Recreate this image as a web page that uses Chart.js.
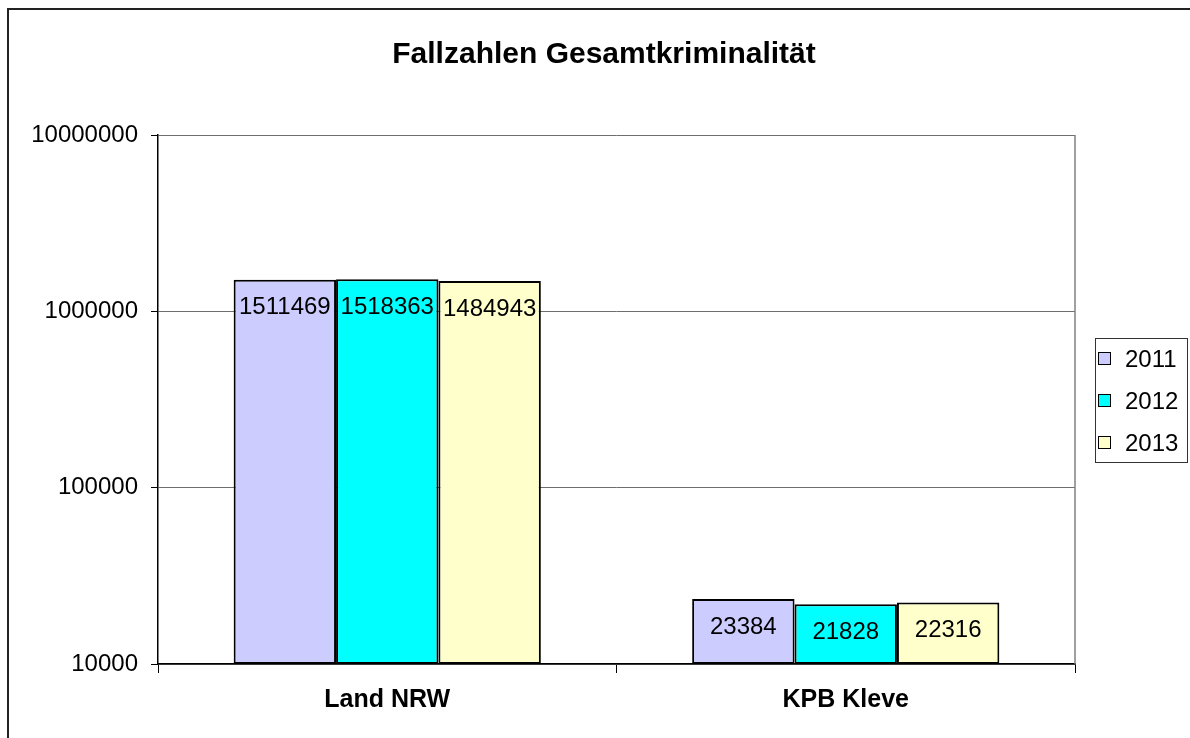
<!DOCTYPE html>
<html>
<head>
<meta charset="utf-8">
<script src="https://cdn.jsdelivr.net/npm/chart.js@4"></script>
<style>
  html, body { margin: 0; padding: 0; background: #fff; }
  #wrap { width: 1190px; height: 738px; }
</style>
</head>
<body>
<div id="wrap"><canvas id="chart" width="1190" height="738"></canvas></div>
<script>
// Data
const categories = ['Land NRW', 'KPB Kleve'];
const years = ['2011', '2012', '2013'];
const values2011 = [1511469, 23384];
const values2012 = [1518363, 21828];
const values2013 = [1484943, 22316];
const yTicks = [10000, 100000, 1000000, 10000000];
const seriesColors = ['#CCCCFF', '#00FFFF', '#FFFFCC'];
const chartTitle = 'Fallzahlen Gesamtkriminalität';

const FONT = "'Liberation Sans', Arial, sans-serif";

// Outer frame, title, plot border and the boxed legend
const framePlugin = {
    id: 'frame',
    beforeDraw: function(chart) {
        const ctx = chart.ctx;
        ctx.save();
        ctx.fillStyle = '#fff';
        ctx.fillRect(0, 0, chart.width, chart.height);
        ctx.strokeStyle = '#222';
        ctx.lineWidth = 2;
        ctx.beginPath();
        ctx.moveTo(8, chart.height + 5);
        ctx.lineTo(8, 9);
        ctx.lineTo(chart.width + 5, 9);
        ctx.stroke();
        // title
        ctx.fillStyle = '#000';
        ctx.font = 'bold 30px ' + FONT;
        ctx.textAlign = 'center';
        ctx.textBaseline = 'middle';
        ctx.fillText(chartTitle, 604, 55);
        ctx.restore();
    },
    afterDatasetsDraw: function(chart) {
        const ctx = chart.ctx;
        const a = chart.chartArea;
        ctx.save();
        ctx.strokeStyle = '#808080';
        ctx.lineWidth = 1.5;
        ctx.beginPath();
        ctx.moveTo(a.right, a.top);
        ctx.lineTo(a.right, a.bottom);
        ctx.stroke();
        ctx.restore();
    },
    afterDraw: function(chart) {
        const ctx = chart.ctx;
        ctx.save();
        // legend box
        const lx = 1095, ly = 338, lw = 92, lh = 124;
        ctx.strokeStyle = '#333';
        ctx.lineWidth = 1;
        ctx.strokeRect(lx + 0.5, ly + 0.5, lw, lh);
        ctx.font = '24px ' + FONT;
        ctx.textBaseline = 'middle';
        ctx.textAlign = 'left';
        chart.data.datasets.forEach(function(ds, i) {
            const cy = 359 + i * 42;
            ctx.fillStyle = ds.backgroundColor;
            ctx.fillRect(1098.5, cy - 6.5, 12, 12);
            ctx.strokeStyle = '#000';
            ctx.lineWidth = 1;
            ctx.strokeRect(1098.5, cy - 6.5, 12, 12);
            ctx.fillStyle = '#000';
            ctx.fillText(ds.label, 1125, cy + 1);
        });
        ctx.restore();
    }
};

// Value labels inside the bar tops
const valueLabels = {
    id: 'valueLabels',
    afterDatasetsDraw: function(chart) {
        const ctx = chart.ctx;
        ctx.save();
        ctx.font = '24px ' + FONT;
        ctx.fillStyle = '#000';
        ctx.textAlign = 'center';
        ctx.textBaseline = 'middle';
        chart.data.datasets.forEach(function(ds, i) {
            chart.getDatasetMeta(i).data.forEach(function(bar, j) {
                ctx.fillText(String(ds.data[j]), bar.x, bar.y + 28);
            });
        });
        ctx.restore();
    }
};

const ctx = document.getElementById('chart').getContext('2d');
new Chart(ctx, {
    type: 'bar',
    data: {
        labels: categories,
        datasets: [
            { label: years[0], data: values2011, backgroundColor: seriesColors[0] },
            { label: years[1], data: values2012, backgroundColor: seriesColors[1] },
            { label: years[2], data: values2013, backgroundColor: seriesColors[2] }
        ].map(function(ds) {
            ds.borderColor = '#000';
            ds.borderWidth = 2;
            ds.borderSkipped = false;
            ds.categoryPercentage = 0.67;
            ds.barPercentage = 1.0;
            return ds;
        })
    },
    options: {
        responsive: false,
        animation: false,
        devicePixelRatio: 1,
        layout: { padding: { left: 20, right: 115, top: 135, bottom: 0 } },
        scales: {
            x: {
                offset: true,
                grid: {
                    offset: true,
                    drawOnChartArea: false,
                    drawTicks: true,
                    tickLength: 9,
                    color: '#000',
                    lineWidth: 1
                },
                border: { color: '#000', width: 1.5 },
                ticks: {
                    color: '#000',
                    font: { family: FONT, size: 25, weight: 'bold' },
                    padding: 12
                },
                afterFit: function(scale) { scale.height = 74; }
            },
            y: {
                type: 'logarithmic',
                min: 10000,
                max: 10000000,
                afterBuildTicks: function(scale) {
                    scale.ticks = yTicks.map(function(v) { return { value: v, major: true }; });
                },
                grid: {
                    color: '#6e6e6e',
                    lineWidth: 1,
                    tickLength: 7,
                    tickColor: '#000'
                },
                border: { color: '#000', width: 1.5 },
                ticks: {
                    color: '#000',
                    font: { family: FONT, size: 24 },
                    padding: 13,
                    autoSkip: false,
                    callback: function(v) { return String(v); }
                },
                afterFit: function(scale) { scale.width = 138; }
            }
        },
        plugins: {
            legend: { display: false },
            tooltip: { enabled: false },
            title: { display: false }
        }
    },
    plugins: [framePlugin, valueLabels]
});
</script>
</body>
</html>
